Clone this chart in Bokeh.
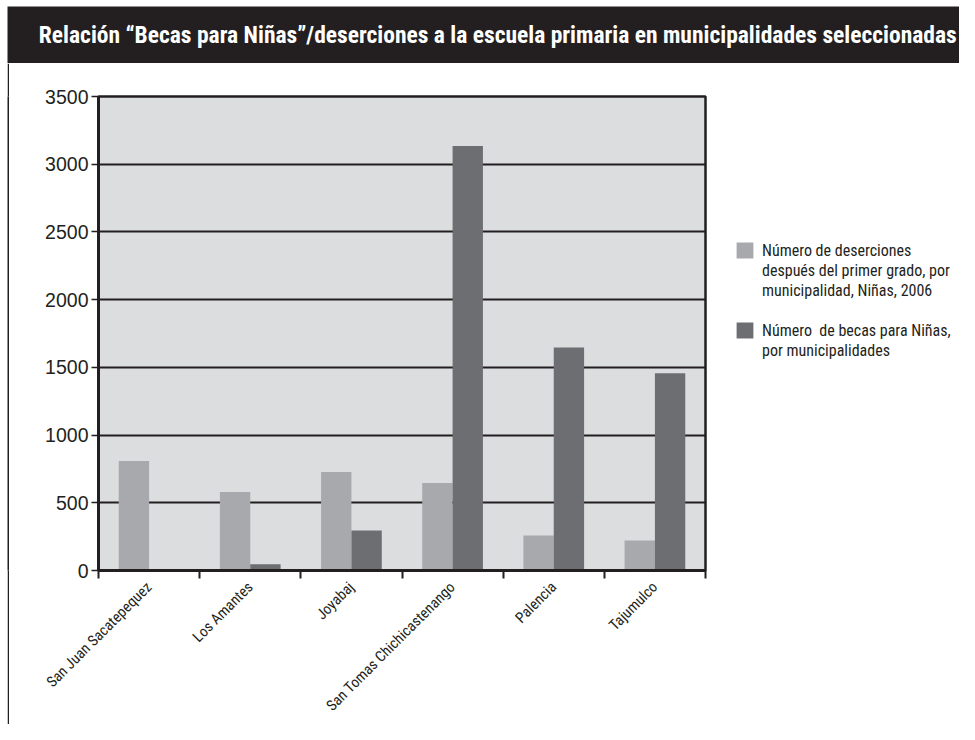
from bokeh.plotting import figure
from bokeh.layouts import column, row
from bokeh.models import FixedTicker, Legend, LegendItem, Range1d, ColumnDataSource, Spacer
from bokeh.core.properties import value
from bokeh.embed import file_html
from bokeh.resources import INLINE

title_text = "Relación “Becas para Niñas”/deserciones a la escuela primaria en municipalidades seleccionadas"
categories = ["San Juan Sacatepequez", "Los Amantes", "Joyabaj",
              "San Tomas Chichicastenango", "Palencia", "Tajumulco"]
deserciones = [808, 580, 727, 646, 258, 222]
becas = [0, 46, 295, 3134, 1646, 1456]
series_labels = ["Número de deserciones\ndespués del primer grado, por\nmunicipalidad, Niñas, 2006",
                 "Número  de becas para Niñas,\npor municipalidades"]
y_ticks = [0, 500, 1000, 1500, 2000, 2500, 3000, 3500]

FONT = "'Roboto Condensed', 'Liberation Sans Narrow', sans-serif"
TICK_FONT = "'Liberation Sans', Arial, sans-serif"
DARK = "#231f20"
LIGHT_BAR = "#a7a9ac"
DARK_BAR = "#6d6e71"
BG = "#dcdddf"
NAN = float("nan")

# Title bar
tf = figure(width=959, height=63, x_range=Range1d(0, 1), y_range=Range1d(0, 1),
            toolbar_location=None, output_backend="svg",
            min_border_left=7, min_border_top=6, min_border_right=0, min_border_bottom=0)
tf.axis.visible = False
tf.grid.visible = False
tf.outline_line_color = None
tf.background_fill_color = DARK
tf.border_fill_color = "white"
tf.text(x=[0.515], y=[0.5], text=[title_text], text_color="white",
        text_font=value(FONT), text_font_size="23.5px", text_font_style="bold",
        text_align="center", text_baseline="middle")

# Left border line
lf = figure(width=2, height=661, toolbar_location=None, output_backend="svg", min_border=0)
lf.axis.visible = False
lf.grid.visible = False
lf.outline_line_color = None
lf.background_fill_color = DARK
lf.border_fill_color = DARK

# Main chart
n = len(categories)
centers = [i + 0.5 for i in range(n)]
src = ColumnDataSource(dict(
    x1=[c - 0.15 for c in centers], x2=[c + 0.15 for c in centers],
    d=deserciones, b=becas))

p = figure(width=711, height=661, x_range=Range1d(0, n), y_range=Range1d(0, 3500),
           toolbar_location=None, output_backend="svg",
           min_border_left=89, min_border_right=15, min_border_top=33, min_border_bottom=154)
p.background_fill_color = BG
p.border_fill_color = "white"
p.outline_line_color = DARK
p.outline_line_width = 2.5

r1 = p.vbar(x="x1", top="d", width=0.3, source=src, fill_color=LIGHT_BAR, line_color=None)
r2 = p.vbar(x="x2", top="b", width=0.3, source=src, fill_color=DARK_BAR, line_color=None)

p.xgrid.visible = False
p.ygrid.ticker = FixedTicker(ticks=y_ticks)
p.ygrid.grid_line_color = DARK
p.ygrid.grid_line_width = 2

p.yaxis.ticker = FixedTicker(ticks=y_ticks)
p.yaxis.axis_line_color = DARK
p.yaxis.axis_line_width = 3
p.yaxis.major_tick_line_color = DARK
p.yaxis.major_tick_line_width = 1.5
p.yaxis.major_tick_out = 7
p.yaxis.major_tick_in = 0
p.yaxis.minor_tick_line_color = None
p.yaxis.major_label_text_font = TICK_FONT
p.yaxis.major_label_text_font_size = "19.5px"
p.yaxis.major_label_text_color = DARK
p.yaxis.major_label_standoff = 3

p.xaxis.ticker = FixedTicker(ticks=centers, minor_ticks=list(range(n + 1)))
p.xaxis.major_label_overrides = {c: lab for c, lab in zip(centers, categories)}
p.xaxis.major_label_orientation = 0.785398
p.xaxis.major_tick_line_color = None
p.xaxis.minor_tick_line_color = DARK
p.xaxis.minor_tick_line_width = 2
p.xaxis.minor_tick_out = 8
p.xaxis.minor_tick_in = 0
p.xaxis.axis_line_color = DARK
p.xaxis.axis_line_width = 3
p.xaxis.major_label_text_font = FONT
p.xaxis.major_label_text_font_size = "15px"
p.xaxis.major_label_text_color = DARK
p.xaxis.major_label_standoff = 6

# Legend panel (separate figure to the right of the chart)
lg = figure(width=239, height=661, x_range=Range1d(0, 1), y_range=Range1d(0, 1),
            toolbar_location=None, output_backend="svg", min_border=0)
lg.axis.visible = False
lg.grid.visible = False
lg.outline_line_color = None
lg.background_fill_color = "white"
lg.border_fill_color = "white"
g1 = lg.vbar(x=[NAN], top=[NAN], width=0.3, fill_color=LIGHT_BAR, line_color=None)
g2 = lg.vbar(x=[NAN], top=[NAN], width=0.3, fill_color=DARK_BAR, line_color=None)
blank = lg.vbar(x=[NAN], top=[NAN], width=0.3, fill_alpha=0, line_alpha=0)

items = []
for lab, rend in zip(series_labels, [g1, g2]):
    lines = lab.split("\n")
    if items:
        items.append(LegendItem(label="\u00a0", renderers=[blank]))
    items.append(LegendItem(label=lines[0], renderers=[rend]))
    for ln in lines[1:]:
        items.append(LegendItem(label=ln, renderers=[blank]))

legend = Legend(items=items, location=(14, 210))
legend.label_text_font = FONT
legend.label_text_font_size = "16px"
legend.label_text_color = DARK
legend.label_height = 20
legend.glyph_width = 21
legend.glyph_height = 20
legend.spacing = 0
legend.padding = 0
legend.margin = 0
legend.border_line_color = None
legend.background_fill_alpha = 0
legend.label_standoff = 7
lg.add_layout(legend)

layout = column(tf, row(Spacer(width=7, height=661), lf, p, lg))
open("out.html", "w").write(file_html(layout, INLINE))
